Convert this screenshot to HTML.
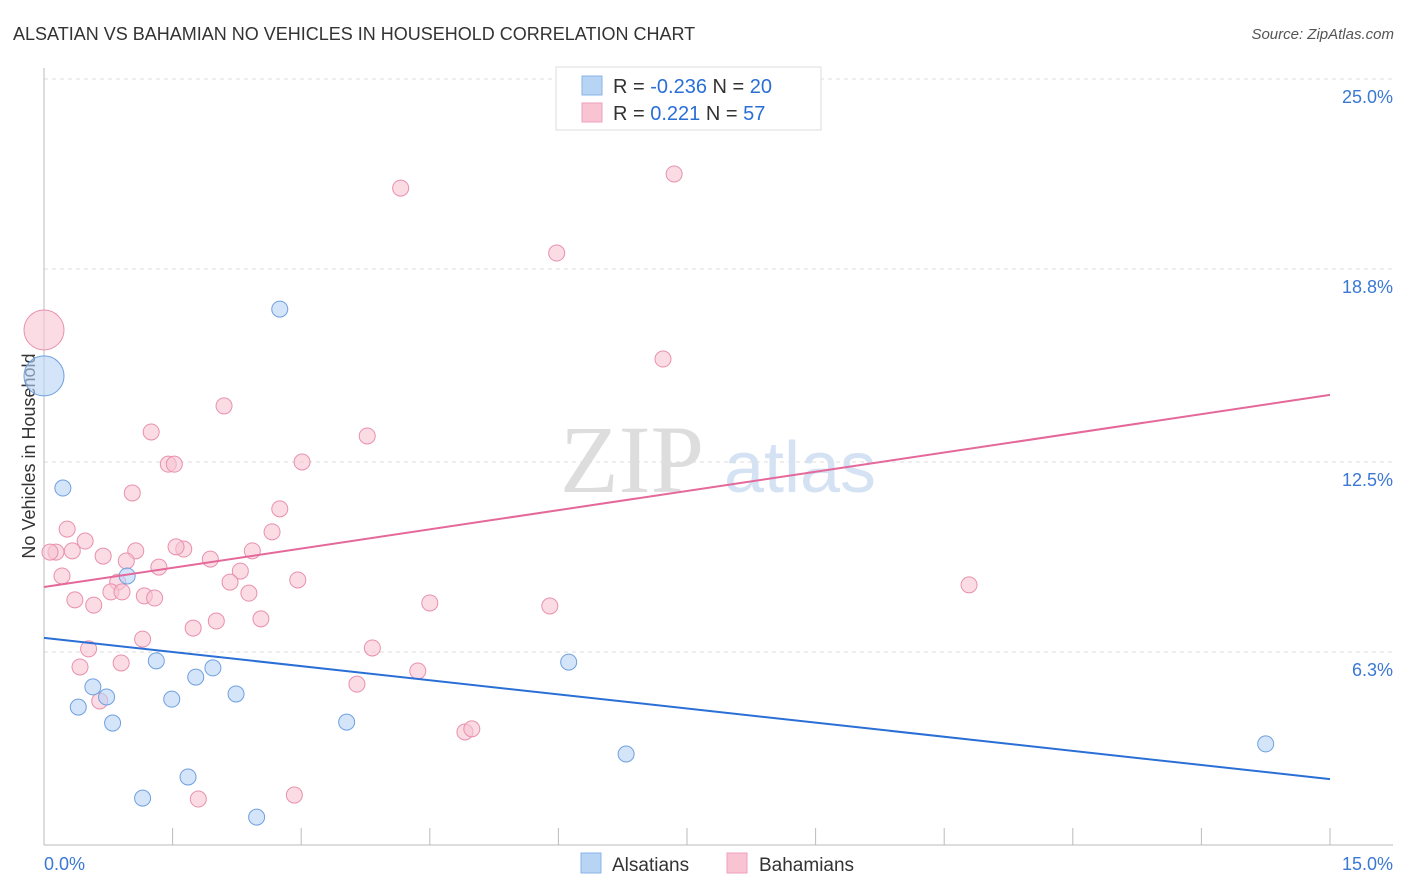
<!DOCTYPE html>
<html><head><meta charset="utf-8"><style>
body{margin:0;background:#fff;font-family:"Liberation Sans",sans-serif;}
#wrap{position:relative;width:1406px;height:892px;overflow:hidden}
</style></head><body>
<div id="wrap">
<svg id="svg" width="1406" height="892" xmlns="http://www.w3.org/2000/svg">
<text x="13" y="40" font-size="18" fill="#333">ALSATIAN VS BAHAMIAN NO VEHICLES IN HOUSEHOLD CORRELATION CHART</text>
<text x="1394" y="39" font-size="15" fill="#555" text-anchor="end" font-style="italic">Source: ZipAtlas.com</text>
<text x="35" y="456" font-size="18" fill="#333" text-anchor="middle" transform="rotate(-90 35 456)">No Vehicles in Household</text>
<g><text x="632" y="492" font-size="96" font-family="Liberation Serif,serif" fill="#ddd" text-anchor="middle">ZIP</text><text x="800" y="492" font-size="72" fill="#d4e2f4" text-anchor="middle">atlas</text></g>
<g id="grid"></g><g id="marks"></g>
<g>
<rect x="556" y="67" width="265" height="63" fill="#fff" stroke="#ddd"/>
<rect x="582" y="76" width="20" height="19" fill="#b8d4f5" stroke="#8ab4e8"/>
<rect x="582" y="103" width="20" height="19" fill="#f8c4d4" stroke="#eea0bb"/>
<text x="613" y="93" font-size="20" fill="#333">R = <tspan fill="#2a6fd6">-0.236</tspan>   N = <tspan fill="#2a6fd6">20</tspan></text>
<text x="613" y="120" font-size="20" fill="#333">R =   <tspan fill="#2a6fd6">0.221</tspan>   N = <tspan fill="#2a6fd6">57</tspan></text>
</g>
<g>
<rect x="581" y="853" width="20" height="20" fill="#b8d4f5" stroke="#8ab4e8"/>
<text x="612" y="871" font-size="19" fill="#333">Alsatians</text>
<rect x="727" y="853" width="20" height="20" fill="#f8c4d4" stroke="#eea0bb"/>
<text x="759" y="871" font-size="19" fill="#333">Bahamians</text>
</g>
</svg></div>
<script>
const yTicks=[25,18.8,12.5,6.3];
const yTickLabels=["25.0%","18.8%","12.5%","6.3%"];
const xTickLabels=["0.0%","15.0%"];
const alsX=[0,2.75,0.22,0.97,1.31,1.97,1.77,0.57,0.73,0.40,1.49,2.24,0.80,3.53,6.12,6.79,1.68,1.15,2.48,14.25];
const alsY=[15.31,17.49,11.65,8.78,6.01,5.78,5.48,5.16,4.83,4.50,4.76,4.93,3.98,4.01,5.97,2.97,2.22,1.53,0.91,3.30];
const bahX=[0,4.16,7.35,5.98,7.22,2.10,1.25,3.77,1.45,1.52,3.01,1.03,2.75,0.27,2.66,0.48,0.14,0.33,1.07,1.63,1.54,2.43,0.69,0.96,1.94,1.34,2.29,0.21,0.86,2.17,2.96,10.79,0.78,2.39,1.17,1.29,0.36,0.58,4.50,5.90,2.53,2.01,1.74,1.15,0.52,3.83,0.90,0.42,4.36,3.65,0.65,4.91,4.99,1.80,2.92,0.07,0.91];
const bahY=[16.81,21.44,21.90,19.32,15.86,14.33,13.48,13.35,12.43,12.43,12.50,11.49,10.97,10.31,10.22,9.92,9.56,9.60,9.60,9.66,9.73,9.60,9.43,9.27,9.33,9.07,8.94,8.78,8.58,8.58,8.65,8.49,8.26,8.22,8.13,8.06,8.00,7.83,7.90,7.80,7.38,7.31,7.08,6.72,6.40,6.43,5.94,5.81,5.68,5.25,4.70,3.69,3.79,1.50,1.63,9.56,8.26];
const alsTrend=[6.76,2.15];
const bahTrend=[8.42,14.69];
const X=v=>44+v*(1286/15), Y=v=>845-v*30.64;
const NS="http://www.w3.org/2000/svg";
function mk(p,t,a){const e=document.createElementNS(NS,t);for(const k in a)e.setAttribute(k,a[k]);p.appendChild(e);return e;}
const g=document.getElementById('grid'),m=document.getElementById('marks');
yTicks.forEach((t,i)=>{
 const l=mk(g,'line',{x1:44,x2:1393,y1:Y(t),y2:Y(t),stroke:'#ddd','stroke-dasharray':'4,4'});
 
 
 const tx=mk(g,'text',{x:1393,y:Y(t)+24,'font-size':18,fill:'#3a78d4','text-anchor':'end'});tx.textContent=yTickLabels[i];
 
 
});
mk(g,'line',{x1:44,x2:44,y1:68,y2:845,stroke:'#bbb'});
mk(g,'line',{x1:44,x2:1393,y1:845,y2:845,stroke:'#bbb'});
for(let i=0;i<=10;i++){const t=mk(g,'line',{x1:X(i*1.5),x2:X(i*1.5),y1:828,y2:845,stroke:'#bbb'});
 
 }
[[0,'start',44],[1,'end',1393]].forEach(([i,a,x])=>{const t=mk(g,'text',{x:x,y:870,'font-size':18,fill:'#3a78d4','text-anchor':a});t.textContent=xTickLabels[i];
 
 });
function pts(xs,ys,fill,stroke,name){xs.forEach((x,i)=>{const r=(x===0)?20:8;
 const c=mk(m,'circle',{cx:X(x),cy:Y(ys[i]),r:r,fill:fill,'fill-opacity':0.6,stroke:stroke,'stroke-width':1});
 
 });}
pts(bahX,bahY,'#f8c4d4','#e890ad','bahamian-point');
pts(alsX,alsY,'#b8d4f5','#6fa0e0','alsatian-point');
const l1=mk(m,'line',{x1:X(0),y1:Y(alsTrend[0]),x2:X(15),y2:Y(alsTrend[1]),stroke:'#2a6fd6','stroke-width':2});


const l2=mk(m,'line',{x1:X(0),y1:Y(bahTrend[0]),x2:X(15),y2:Y(bahTrend[1]),stroke:'#e4689a','stroke-width':2});


</script>
</body></html>
